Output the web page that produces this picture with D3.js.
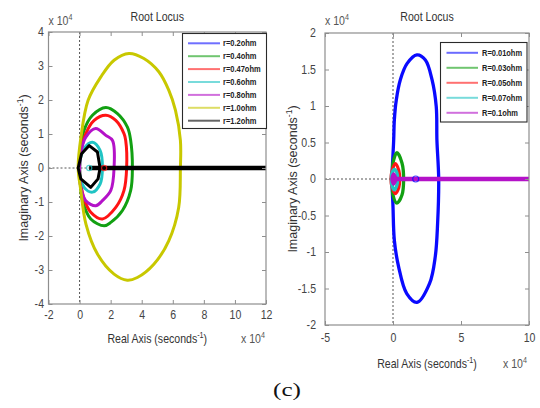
<!DOCTYPE html>
<html>
<head>
<meta charset="utf-8">
<script src="https://cdn.jsdelivr.net/npm/d3@7"></script>
<style>
  html, body { margin: 0; padding: 0; background: #fff; }
  svg { display: block; }
</style>
</head>
<body>
<svg id="fig" width="540" height="408" font-family="'Liberation Sans', Arial, Helvetica, sans-serif"></svg>
<script>
// ---------- Left panel: root locus for several r values (units of 1e4 s^-1) ----------
const leftNames  = ["r=0.2ohm", "r=0.4ohm", "r=0.47ohm", "r=0.6ohm", "r=0.8ohm", "r=1.0ohm", "r=1.2ohm"];
const leftColors = ["#1010ff", "#12a012", "#ff1414", "#20c4c4", "#b412c8", "#c8c800", "#000000"];

// closed branches [real, imag], listed counter-clockwise from the real-axis crossing
const locusR02  = [];
const locusR04  = [[3.40,0],[3.29,0.81],[3.08,1.20],[2.44,1.60],[1.69,1.78],[0.83,1.55],[0.29,1.11],[0.07,0.55],[0,0],
                   [0.05,-0.45],[0.19,-0.96],[0.72,-1.50],[1.58,-1.70],[2.01,-1.60],[2.76,-1.25],[3.29,-0.66]];
const locusR047 = [[3.03,0],[2.97,0.81],[2.86,1.01],[2.33,1.40],[1.69,1.55],[0.94,1.40],[0.40,1.01],[0.10,0.50],[0,0],
                   [0.08,-0.45],[0.29,-0.91],[0.72,-1.30],[1.47,-1.50],[2.33,-1.16],[2.86,-0.66]];
const locusR06  = [[1.47,0],[1.32,0.52],[0.83,0.76],[0.29,0.57],[0,0],[0.29,-0.57],[0.83,-0.71],[1.32,-0.47]];
const locusR08  = [[2.22,0],[2.12,0.81],[1.69,0.96],[1.04,1.16],[0.40,0.91],[0.10,0.50],[0,0],
                   [0.08,-0.57],[0.40,-0.96],[1.04,-1.11],[1.47,-0.96],[2.01,-0.66]];
const locusR10  = [[6.49,0],[6.49,0.81],[6.17,1.70],[5.74,2.29],[5.10,2.83],[4.14,3.22],[3.18,3.37],[2.22,3.17],
                   [1.37,2.68],[0.55,1.99],[0.09,0.91],[-0.09,0],[0.08,-0.66],[0.41,-1.65],[1.15,-2.53],
                   [2.22,-3.12],[3.07,-3.30],[3.72,-3.22],[4.78,-2.83],[5.74,-2.14],[6.38,-1.16]];
const locusR12  = [[1.32,0],[1.15,0.47],[0.62,0.66],[0.13,0.42],[-0.09,0],[0.08,-0.32],[0.72,-0.57],[1.19,-0.32]];
const leftLoops = [locusR02, locusR04, locusR047, locusR06, locusR08, locusR10, locusR12];
// branch running out along the real axis (r=1.2)
const leftRealBranch = [[0.62,0],[12,0]];
// open-loop zeros  [real, imag, series index]
const leftZeros = [[0.62,0,3],[1.58,0,2]];

const leftXTicks = [-2,0,2,4,6,8,10,12];
const leftYTicks = [-4,-3,-2,-1,0,1,2,3,4];

// ---------- Right panel: root locus for several R values ----------
const rightNames  = ["R=0.01ohm", "R=0.03ohm", "R=0.05ohm", "R=0.07ohm", "R=0.1ohm"];
const rightColors = ["#0a0aff", "#12a012", "#ff1414", "#20c4c4", "#b412c8"];

const locusR001 = [[3.36,0],[3.23,0.53],[3.18,0.99],[2.87,1.36],[2.38,1.63],[1.76,1.70],[1.03,1.58],[0.54,1.36],
                   [0.24,1.08],[0.10,0.81],[0.05,0.53],[-0.07,0],[0,-0.38],[0.10,-0.84],[0.41,-1.20],
                   [1.01,-1.57],[1.76,-1.69],[2.69,-1.43],[3.11,-1.06],[3.28,-0.61]];
const locusR003 = [[0.78,0],[0.66,0.22],[0.29,0.36],[0,0.22],[-0.03,0],[0,-0.22],[0.29,-0.33],[0.66,-0.22]];
const locusR005 = [[0.49,0],[0.42,0.12],[0.17,0.21],[-0.05,0.12],[-0.15,0],[-0.05,-0.12],[0.17,-0.20],[0.42,-0.12]];
const locusR007 = [[0.34,0],[0.28,0.09],[0.10,0.13],[-0.08,0.08],[-0.12,0],[-0.08,-0.09],[0.10,-0.15],[0.28,-0.09]];
const locusR01  = [[0.20,0],[0.05,0.07],[-0.08,0],[0.05,-0.07]];
const rightLoops = [locusR001, locusR003, locusR005, locusR007, locusR01];
const rightRealBranch = [[-0.07,0],[10,0]];
const rightZeros = [[1.67,0,0]];

const rightXTicks = [-5,0,5,10];
const rightYTicks = [-2,-1.5,-1,-0.5,0,0.5,1,1.5,2];

// ---------- drawing ----------
const svg = d3.select("#fig");
const SX = 0.88;              // horizontally condensed lettering
const BOX = "#8e8e8e";
const TXT = "#3a3a3a";

function addText(parent, x, y, str, size, anchor, opts = {}) {
  const t = parent.append("text")
    .attr("transform", `translate(${x},${y}) scale(${opts.sx ?? SX},1)`)
    .attr("font-size", size)
    .attr("text-anchor", anchor)
    .attr("fill", opts.fill || TXT)
    .attr("font-weight", opts.weight || "normal");
  if (opts.family) t.attr("font-family", opts.family);
  t.append("tspan").text(str);
  if (opts.sup) {
    t.append("tspan").attr("dy", -size * 0.38).attr("font-size", size * 0.68).text(opts.sup);
    if (opts.after) t.append("tspan").attr("dy", size * 0.38).attr("font-size", size).text(opts.after);
  }
  return t;
}

const plain = d => String(d);   // hyphen-minus tick labels

function panel(cfg) {
  const { x, y, id } = cfg;
  const g = svg.append("g");
  const [x0, x1] = x.range(), [y0, y1] = y.range();

  g.append("clipPath").attr("id", id).append("rect")
    .attr("x", x0).attr("y", y1).attr("width", x1 - x0).attr("height", y0 - y1);

  // dotted reference axes through the origin
  g.append("line").attr("x1", x(0)).attr("x2", x(0)).attr("y1", y1).attr("y2", y0)
    .attr("stroke", "#555").attr("stroke-width", 1).attr("stroke-dasharray", "2,2");
  g.append("line").attr("x1", x0).attr("x2", x1).attr("y1", y(0)).attr("y2", y(0))
    .attr("stroke", "#555").attr("stroke-width", 1).attr("stroke-dasharray", "2,2");

  const plot = g.append("g").attr("clip-path", `url(#${id})`);
  const smooth = d3.line().x(d => x(d[0])).y(d => y(d[1])).curve(d3.curveCatmullRomClosed.alpha(0.5));
  const poly = d3.line().x(d => x(d[0])).y(d => y(d[1])).curve(d3.curveLinearClosed);
  const open = d3.line().x(d => x(d[0])).y(d => y(d[1]));

  cfg.loops.forEach((pts, i) => {
    if (!pts.length) return;
    plot.append("path")
      .attr("d", (cfg.polyIndex === i ? poly : smooth)(pts))
      .attr("fill", "none").attr("stroke", cfg.colors[i])
      .attr("stroke-width", cfg.loopWidth).attr("stroke-linejoin", "round");
  });
  plot.append("path").attr("d", open(cfg.realBranch))
    .attr("fill", "none").attr("stroke", cfg.colors[cfg.realIndex]).attr("stroke-width", 4.3);
  cfg.zeros.forEach(z => {
    plot.append("circle").attr("cx", x(z[0])).attr("cy", y(z[1])).attr("r", cfg.zeroR)
      .attr("fill", "none").attr("stroke", cfg.colors[z[2]]).attr("stroke-width", 1.2).attr("opacity", 0.75);
  });

  // inward ticks on all four sides
  const tk = 4;
  const axB = g.append("g").attr("transform", `translate(0,${y0})`)
    .call(d3.axisBottom(x).tickValues(cfg.xTicks).tickSize(-tk).tickFormat(plain));
  const axT = g.append("g").attr("transform", `translate(0,${y1})`)
    .call(d3.axisTop(x).tickValues(cfg.xTicks).tickSize(-tk).tickFormat(""));
  const axL = g.append("g").attr("transform", `translate(${x0},0)`)
    .call(d3.axisLeft(y).tickValues(cfg.yTicks).tickSize(-tk).tickFormat(plain));
  const axR = g.append("g").attr("transform", `translate(${x1},0)`)
    .call(d3.axisRight(y).tickValues(cfg.yTicks).tickSize(-tk).tickFormat(""));
  [axB, axT, axL, axR].forEach(a => {
    a.attr("font-family", null);
    a.select(".domain").remove();
    a.selectAll("line").attr("stroke", BOX).attr("stroke-width", 1);
    a.selectAll("text").attr("font-size", 12).attr("fill", "#444");
  });
  axB.selectAll("text").attr("transform", `scale(${SX},1)`).attr("y", cfg.xTickGap).attr("dy", "0.71em");
  axL.selectAll("text").attr("transform", `scale(${SX},1)`).attr("x", -cfg.yTickGap / SX);

  g.append("rect").attr("x", x0).attr("y", y1).attr("width", x1 - x0).attr("height", y0 - y1)
    .attr("fill", "none").attr("stroke", BOX).attr("stroke-width", 1.2);

  // legend
  const L = cfg.legend;
  const lg = g.append("g");
  lg.append("rect").attr("x", L.x).attr("y", L.y).attr("width", L.w).attr("height", L.h)
    .attr("fill", "#fff").attr("stroke", "#2a2a2a").attr("stroke-width", 1.1);
  cfg.names.forEach((n, i) => {
    const cy = L.first + i * L.step;
    lg.append("line").attr("x1", L.lx0).attr("x2", L.lx1).attr("y1", cy).attr("y2", cy)
      .attr("stroke", cfg.colors[i]).attr("stroke-width", 2).attr("opacity", 0.6);
    addText(lg, L.tx, cy + 3, n, 8.5, "start", { weight: "bold", fill: "#222" });
  });

  // titles and axis labels
  const cx = (x0 + x1) / 2;
  addText(g, cx, 21, "Root Locus", 12, "middle", { fill: "#333" });
  addText(g, x0, 25, "x 10", 12, "start", { sup: "4", fill: "#555" });
  addText(g, cx, cfg.xlabY, "Real Axis (seconds", 12, "middle", { sup: "-1", after: ")", fill: "#333" });
  addText(g, cfg.expX, cfg.xlabY, "x 10", 12, "start", { sup: "4", fill: "#555" });
  g.append("text")
    .attr("transform", `translate(${cfg.ylabX},${(y0 + y1) / 2}) rotate(-90)`)
    .attr("font-size", 12.5).attr("text-anchor", "middle").attr("fill", "#333")
    .call(t => {
      t.append("tspan").text("Imaginary Axis (seconds");
      t.append("tspan").attr("dy", -4.6).attr("font-size", 8.5).text("-1");
      t.append("tspan").attr("dy", 4.6).text(")");
    });
}

panel({
  id: "clipL",
  x: d3.scaleLinear().domain([-2, 12]).range([48.5, 266]),
  y: d3.scaleLinear().domain([-4, 4]).range([304, 32]),
  xTicks: leftXTicks, yTicks: leftYTicks, xTickGap: 6.5, yTickGap: 4.5,
  names: leftNames, colors: leftColors, loops: leftLoops,
  loopWidth: 3, polyIndex: 6,
  realBranch: leftRealBranch, realIndex: 6,
  zeros: leftZeros, zeroR: 2.6,
  legend: { x: 182.5, y: 33.5, w: 84, h: 95, first: 43.3, step: 12.9, lx0: 188, lx1: 220, tx: 223 },
  xlabY: 343, expX: 241, ylabX: 27.5
});

panel({
  id: "clipR",
  x: d3.scaleLinear().domain([-5, 10]).range([325, 529]),
  y: d3.scaleLinear().domain([-2, 2]).range([325, 33]),
  xTicks: rightXTicks, yTicks: rightYTicks, xTickGap: 8.5, yTickGap: 9,
  names: rightNames, colors: rightColors, loops: rightLoops,
  loopWidth: 3.3, polyIndex: -1,
  realBranch: rightRealBranch, realIndex: 4,
  zeros: rightZeros, zeroR: 3,
  legend: { x: 440.5, y: 42.5, w: 86.5, h: 79.5, first: 52.8, step: 15, lx0: 446.5, lx1: 478, tx: 482 },
  xlabY: 368, expX: 503, ylabX: 297
});

// figure caption
svg.append("text").attr("transform", "translate(287,396) scale(1.4,1)").attr("text-anchor", "middle")
  .attr("font-family", "'Liberation Serif', 'Times New Roman', serif").attr("font-size", 18).attr("fill", "#111")
  .text("(c)");
</script>
</body>
</html>
